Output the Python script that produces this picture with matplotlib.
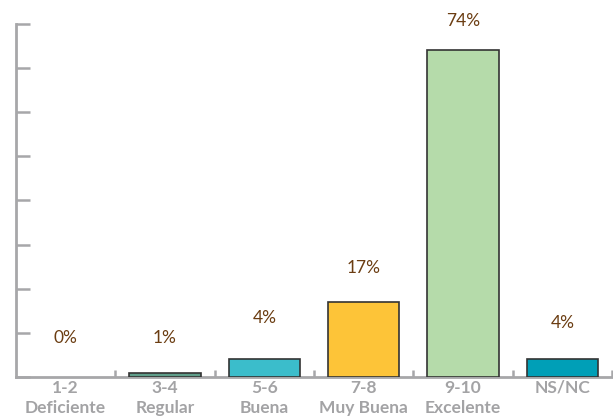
import matplotlib
matplotlib.use("Agg")
import matplotlib.pyplot as plt
import numpy as np

categories = ["1-2\nDeficiente", "3-4\nRegular", "5-6\nBuena", "7-8\nMuy Buena", "9-10\nExcelente", "NS/NC"]
values = [0, 1, 4, 17, 74, 4]
labels = ["0%", "1%", "4%", "17%", "74%", "4%"]
colors = ["#5f9e8a", "#5f9e8a", "#3bbdcb", "#fdc438", "#b5dbaa", "#009fb7"]
label_offsets = [28, 25, 29.5, 24.5, 21, 26]

plt.rcParams['font.family'] = ['Lato', 'DejaVu Sans']

fig = plt.figure(figsize=(6.13, 4.19), dpi=100)
ax = fig.add_axes([16/613, 42/419, 596/613, 353/419])

x = np.arange(len(categories))
for xi, v, c in zip(x, values, colors):
    if v > 0:
        ax.bar(xi, v, width=0.72, color=c, edgecolor="#333333", linewidth=1.2, zorder=3)

axis_col = "#a7a7a9"
ax.set_xlim(-0.5, len(categories) - 0.5)
ax.set_ylim(0, 80)
ax.set_yticks(np.arange(0, 81, 10))
ax.set_yticklabels([])
ax.tick_params(axis='y', direction='in', length=10, width=1.8, color=axis_col)
ax.set_xticks(x)
ax.set_xticklabels(categories, color="#a3a3a5", fontsize=12.5, fontweight='bold', linespacing=1.35)
ax.tick_params(axis='x', which='major', length=0, pad=2)
ax.set_xticks(np.arange(0.5, len(categories), 1.0), minor=True)
ax.tick_params(axis='x', which='minor', direction='in', length=5, width=1.8, color=axis_col)

for s in ['top', 'right']:
    ax.spines[s].set_visible(False)
for s in ['left', 'bottom']:
    ax.spines[s].set_color(axis_col)
    ax.spines[s].set_linewidth(2)

for xi, v, t, off in zip(x, values, labels, label_offsets):
    ax.annotate(t, (xi, v), xytext=(0, off), textcoords='offset points',
                ha='center', va='center', color="#6b3d12", fontsize=12.5)

fig.savefig("out.png", dpi=100)
